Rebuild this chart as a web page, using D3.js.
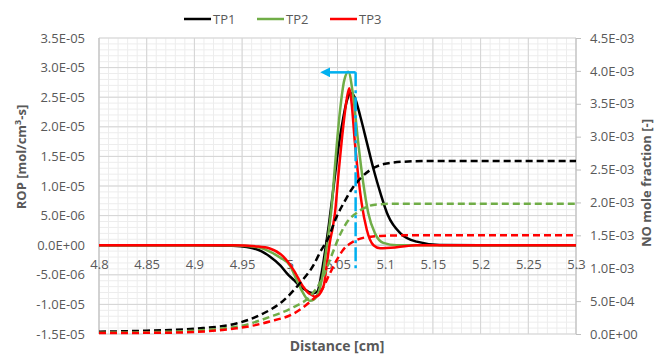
<!DOCTYPE html>
<html>
<head>
<meta charset="utf-8">
<script src="https://cdn.jsdelivr.net/npm/d3@7"></script>
<style>
  body { margin: 0; background: #fff; }
  svg { display: block; font-family: "Open Sans", sans-serif; }
</style>
</head>
<body>
<svg id="chart" width="661" height="355"></svg>
<script>
// ---- data ----
const seriesNames = ["TP1", "TP2", "TP3"];

// ROP (left axis), mol/cm3-s
const ropTP1x = [4.80, 4.90, 4.94, 4.955, 4.97, 4.979, 4.99, 4.997, 5.005, 5.011, 5.017, 5.021, 5.025, 5.029, 5.033, 5.037, 5.041, 5.046, 5.051, 5.056, 5.060, 5.0638, 5.068, 5.074, 5.081, 5.088, 5.095, 5.103, 5.116, 5.133, 5.157, 5.20, 5.30];
const ropTP1y = [0, 0, -0.1e-6, -0.3e-6, -1.0e-6, -1.9e-6, -3.4e-6, -4.75e-6, -6.0e-6, -7.0e-6, -7.6e-6, -8.0e-6, -8.1e-6, -7.8e-6, -5.0e-6, -1.0e-6, 3.5e-6, 10e-6, 16.5e-6, 21.5e-6, 24.5e-6, 25.7e-6, 25.0e-6, 21.7e-6, 17.2e-6, 12.7e-6, 8.8e-6, 5.0e-6, 2.0e-6, 0.6e-6, 0.05e-6, 0, 0];

const ropTP2x = [4.80, 4.93, 4.955, 4.97, 4.979, 4.99, 5.0, 5.007, 5.013, 5.0176, 5.021, 5.025, 5.028, 5.032, 5.035, 5.038, 5.041, 5.0439, 5.0474, 5.0527, 5.057, 5.0613, 5.0665, 5.0718, 5.077, 5.0823, 5.0893, 5.098, 5.112, 5.15, 5.30];
const ropTP2y = [0, 0, -0.15e-6, -0.5e-6, -1.1e-6, -2.1e-6, -3.4e-6, -5.8e-6, -7.8e-6, -9.0e-6, -9.4e-6, -9.2e-6, -8.7e-6, -7.0e-6, -4.5e-6, -1.0e-6, 2.5e-6, 6.5e-6, 13.5e-6, 22.8e-6, 27.8e-6, 29.3e-6, 25.1e-6, 17.2e-6, 10.5e-6, 5.4e-6, 2.0e-6, 0.4e-6, 0, 0, 0];

const ropTP3x = [4.80, 4.94, 4.965, 4.979, 4.993, 5.004, 5.014, 5.019, 5.023, 5.026, 5.029, 5.032, 5.036, 5.039, 5.042, 5.045, 5.0474, 5.0508, 5.056, 5.0598, 5.0624, 5.0648, 5.0683, 5.0718, 5.0753, 5.0807, 5.0877, 5.0947, 5.112, 5.133, 5.30];
const ropTP3y = [0, 0, -0.2e-6, -0.55e-6, -1.9e-6, -4.2e-6, -7.0e-6, -8.0e-6, -8.4e-6, -8.7e-6, -8.6e-6, -8.1e-6, -6.5e-6, -3.0e-6, 0.5e-6, 3.0e-6, 5.5e-6, 11.6e-6, 20.0e-6, 24.8e-6, 26.5e-6, 24.0e-6, 17.2e-6, 11.6e-6, 7.1e-6, 2.6e-6, 0, -0.5e-6, -0.35e-6, 0, 0];

// NO mole fraction (right axis)
const noTP1x = [4.80, 4.85, 4.8744, 4.909, 4.944, 4.972, 4.991, 5.011, 5.025, 5.032, 5.040, 5.049, 5.058, 5.0667, 5.075, 5.084, 5.095, 5.105, 5.12, 5.15, 5.30];
const noTP1y = [0.035e-3, 0.05e-3, 0.061e-3, 0.09e-3, 0.16e-3, 0.31e-3, 0.48e-3, 0.78e-3, 1.05e-3, 1.25e-3, 1.45e-3, 1.78e-3, 2.03e-3, 2.24e-3, 2.38e-3, 2.49e-3, 2.57e-3, 2.60e-3, 2.62e-3, 2.63e-3, 2.63e-3];

const noTP2x = [4.80, 4.8744, 4.944, 4.979, 5.004, 5.021, 5.035, 5.044, 5.053, 5.061, 5.069, 5.08, 5.091, 5.11, 5.30];
const noTP2y = [0.02e-3, 0.035e-3, 0.11e-3, 0.26e-3, 0.41e-3, 0.57e-3, 0.87e-3, 1.2e-3, 1.52e-3, 1.72e-3, 1.83e-3, 1.93e-3, 1.97e-3, 1.98e-3, 1.98e-3];

const noTP3x = [4.80, 4.8744, 4.944, 4.979, 5.004, 5.022, 5.033, 5.042, 5.049, 5.056, 5.065, 5.074, 5.085, 5.095, 5.12, 5.30];
const noTP3y = [0.015e-3, 0.02e-3, 0.086e-3, 0.19e-3, 0.31e-3, 0.5e-3, 0.66e-3, 0.92e-3, 1.12e-3, 1.28e-3, 1.39e-3, 1.45e-3, 1.48e-3, 1.49e-3, 1.5e-3, 1.5e-3];

// tick values / labels
const xTicks = [4.8, 4.85, 4.9, 4.95, 5.0, 5.05, 5.1, 5.15, 5.2, 5.25, 5.3];
const xTickLabels = ["4.8", "4.85", "4.9", "4.95", "5", "5.05", "5.1", "5.15", "5.2", "5.25", "5.3"];
const leftTicks = [-1.5e-5, -1.0e-5, -5e-6, 0, 5e-6, 1.0e-5, 1.5e-5, 2.0e-5, 2.5e-5, 3.0e-5, 3.5e-5];
const leftTickLabels = ["-1.5E-05", "-1.0E-05", "-5.0E-06", "0.0E+00", "5.0E-06", "1.0E-05", "1.5E-05", "2.0E-05", "2.5E-05", "3.0E-05", "3.5E-05"];
const rightTicks = [0, 5e-4, 1.0e-3, 1.5e-3, 2.0e-3, 2.5e-3, 3.0e-3, 3.5e-3, 4.0e-3, 4.5e-3];
const rightTickLabels = ["0.0E+00", "5.0E-04", "1.0E-03", "1.5E-03", "2.0E-03", "2.5E-03", "3.0E-03", "3.5E-03", "4.0E-03", "4.5E-03"];

// annotation (blue arrow marking the peak position)
const markerX = 5.069;
const markerTop = 2.92e-5;
const markerBottom = -3.9e-6;
const arrowTipX = 5.034;

// ---- layout ----
const width = 661, height = 355;
const margin = { top: 38, right: 85, bottom: 21, left: 99 };
const colors = ["#000000", "#70AD47", "#FF0000"];
const textColor = "#595959";

const svg = d3.select("#chart");

const x = d3.scaleLinear().domain([4.8, 5.3]).range([margin.left, width - margin.right]);
const yL = d3.scaleLinear().domain([-1.5e-5, 3.5e-5]).range([height - margin.bottom, margin.top]);
const yR = d3.scaleLinear().domain([0, 4.5e-3]).range([height - margin.bottom, margin.top]);

// minor grid (5 subdivisions)
const grid = svg.append("g");
const minorX = d3.range(0, 51).map(i => 4.8 + i * 0.01);
const minorY = d3.range(0, 51).map(i => -1.5e-5 + i * 1e-6);
grid.selectAll("line.mx").data(minorX).enter().append("line")
  .attr("x1", d => x(d)).attr("x2", d => x(d))
  .attr("y1", yL(3.5e-5)).attr("y2", yL(-1.5e-5))
  .attr("stroke", "#EDEDED").attr("stroke-width", 1);
grid.selectAll("line.my").data(minorY).enter().append("line")
  .attr("x1", x(4.8)).attr("x2", x(5.3))
  .attr("y1", d => yL(d)).attr("y2", d => yL(d))
  .attr("stroke", "#EDEDED").attr("stroke-width", 1);
// major grid
grid.selectAll("line.gx").data(xTicks).enter().append("line")
  .attr("x1", d => x(d)).attr("x2", d => x(d))
  .attr("y1", yL(3.5e-5)).attr("y2", yL(-1.5e-5))
  .attr("stroke", "#D4D4D4").attr("stroke-width", 1);
grid.selectAll("line.gy").data(leftTicks).enter().append("line")
  .attr("x1", x(4.8)).attr("x2", x(5.3))
  .attr("y1", d => yL(d)).attr("y2", d => yL(d))
  .attr("stroke", "#D4D4D4").attr("stroke-width", 1);

// axis lines
svg.append("line").attr("x1", x(4.8)).attr("x2", x(4.8))
  .attr("y1", yL(3.5e-5)).attr("y2", yL(-1.5e-5)).attr("stroke", "#BFBFBF");
svg.append("line").attr("x1", x(5.3)).attr("x2", x(5.3))
  .attr("y1", yR(4.5e-3)).attr("y2", yR(0)).attr("stroke", "#BFBFBF");
svg.append("line").attr("x1", x(4.8)).attr("x2", x(5.3))
  .attr("y1", yL(0)).attr("y2", yL(0)).attr("stroke", "#BFBFBF");

// left axis
const leftAxis = svg.append("g")
  .attr("transform", `translate(${margin.left},0)`)
  .call(d3.axisLeft(yL).tickValues(leftTicks).tickFormat((d, i) => leftTickLabels[i]).tickSize(0).tickPadding(14));
leftAxis.select(".domain").remove();

// right axis
const rightAxis = svg.append("g")
  .attr("transform", `translate(${width - margin.right},0)`)
  .call(d3.axisRight(yR).tickValues(rightTicks).tickFormat((d, i) => rightTickLabels[i]).tickSize(5).tickPadding(9));
rightAxis.select(".domain").remove();
rightAxis.selectAll(".tick line").attr("stroke", "#BFBFBF");

// x axis crossing at zero
const xAxis = svg.append("g")
  .attr("transform", `translate(0,${yL(0)})`)
  .call(d3.axisBottom(x).tickValues(xTicks).tickFormat((d, i) => xTickLabels[i]).tickSize(0).tickPadding(15));
xAxis.select(".domain").remove();

svg.selectAll(".tick text")
  .attr("fill", textColor)
  .style("font-size", "13px")
  .style("font-family", "'Open Sans', sans-serif");

// series
const line = d3.line().curve(d3.curveMonotoneX);
const ropSeries = [[ropTP1x, ropTP1y], [ropTP2x, ropTP2y], [ropTP3x, ropTP3y]];
const noSeries = [[noTP1x, noTP1y], [noTP2x, noTP2y], [noTP3x, noTP3y]];

const plot = svg.append("g");
ropSeries.forEach(([xs, ys], i) => {
  plot.append("path")
    .attr("d", line(xs.map((d, j) => [x(d), yL(ys[j])])))
    .attr("fill", "none")
    .attr("stroke", colors[i])
    .attr("stroke-width", 2.5)
    .attr("stroke-linejoin", "round");
});
noSeries.forEach(([xs, ys], i) => {
  plot.append("path")
    .attr("d", line(xs.map((d, j) => [x(d), yR(ys[j])])))
    .attr("fill", "none")
    .attr("stroke", colors[i])
    .attr("stroke-width", 2.5)
    .attr("stroke-dasharray", "7,4");
});

// blue marker: dash-dot vertical line + arrow to the left
const blue = "#00B0F0";
svg.append("defs").append("marker")
  .attr("id", "arrowhead")
  .attr("viewBox", "0 0 10 10")
  .attr("refX", 2).attr("refY", 5)
  .attr("markerWidth", 4).attr("markerHeight", 4)
  .attr("orient", "auto-start-reverse")
  .append("path").attr("d", "M0,0 L10,5 L0,10 z").attr("fill", blue);

svg.append("line")
  .attr("x1", x(markerX)).attr("x2", x(markerX))
  .attr("y1", yL(markerTop)).attr("y2", yL(markerBottom))
  .attr("stroke", blue).attr("stroke-width", 2.5)
  .attr("stroke-dasharray", "14,4,3,4");
svg.append("line")
  .attr("x1", x(markerX)).attr("x2", x(arrowTipX) + 6)
  .attr("y1", yL(markerTop)).attr("y2", yL(markerTop))
  .attr("stroke", blue).attr("stroke-width", 2.5)
  .attr("marker-end", "url(#arrowhead)");

// axis titles
svg.append("text")
  .attr("transform", `translate(26,157) rotate(-90)`)
  .attr("text-anchor", "middle")
  .attr("fill", textColor)
  .style("font-size", "13px").style("font-weight", "bold")
  .call(t => {
    t.append("tspan").text("ROP [mol/cm");
    t.append("tspan").attr("dy", -5).style("font-size", "9px").text("3");
    t.append("tspan").attr("dy", 5).text("-s]");
  });

svg.append("text")
  .attr("transform", `translate(651,183) rotate(-90)`)
  .attr("text-anchor", "middle")
  .attr("fill", textColor)
  .style("font-size", "13px").style("font-weight", "bold")
  .text("NO mole fraction [-]");

svg.append("text")
  .attr("x", 337).attr("y", 351)
  .attr("text-anchor", "middle")
  .attr("fill", textColor)
  .style("font-size", "14px").style("font-weight", "bold")
  .text("Distance [cm]");

// legend
const legendX = [184, 257, 330];
const legend = svg.append("g");
seriesNames.forEach((name, i) => {
  legend.append("line")
    .attr("x1", legendX[i]).attr("x2", legendX[i] + 27)
    .attr("y1", 19).attr("y2", 19)
    .attr("stroke", colors[i]).attr("stroke-width", 2.5);
  legend.append("text")
    .attr("x", legendX[i] + 29).attr("y", 23.5)
    .attr("fill", textColor)
    .style("font-size", "13px")
    .text(name);
});
</script>
</body>
</html>
